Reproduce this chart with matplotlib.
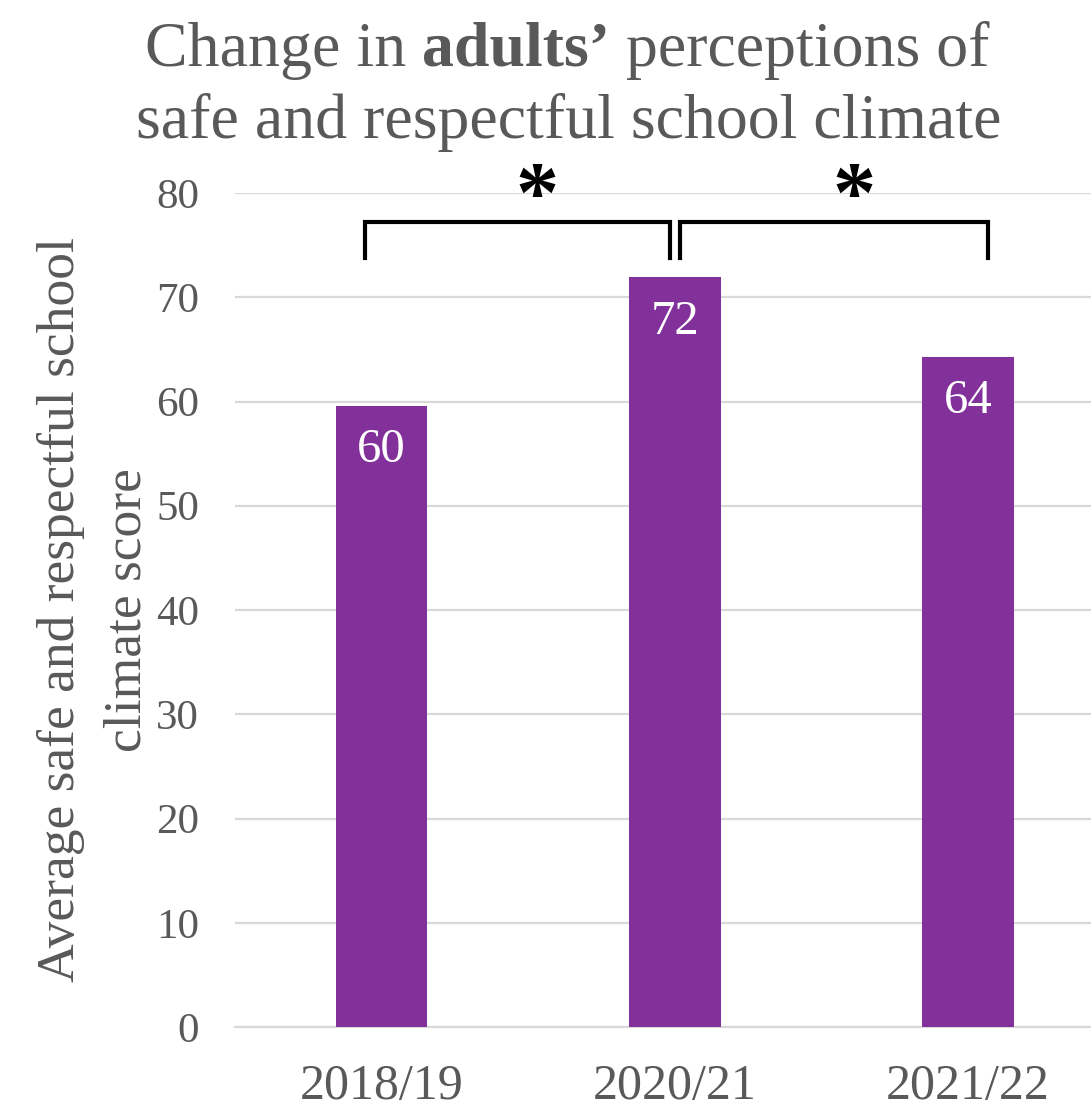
import matplotlib
matplotlib.use('Agg')
import matplotlib.pyplot as plt

years = ['2018/19', '2020/21', '2021/22']
scores = [59.6, 71.9, 64.3]
yticks = [0, 10, 20, 30, 40, 50, 60, 70, 80]

purple = '#82319A'
grey = '#595959'
font = 'Liberation Serif'
plt.rcParams['font.family'] = font

fig = plt.figure(figsize=(10.91, 11.13), dpi=100)
ax = fig.add_axes([235/1091, 86/1113, 856/1091, 834/1113])

x = list(range(len(years)))
bars = ax.bar(x, scores, width=0.313, color=purple, zorder=3)
ax.bar_label(bars, fmt='%.0f', label_type='edge', padding=-48,
             color='white', fontsize=35)

ax.set_xlim(-0.5, 2.42)
ax.set_ylim(0, 80)
ax.set_yticks(yticks)
ax.set_xticks(x)
ax.set_xticklabels(years, fontsize=36, color=grey)
ax.tick_params(axis='y', labelsize=31, colors=grey, length=0, pad=26)
ax.tick_params(axis='x', length=0, pad=26)
ax.grid(axis='y', color='#d9d9d9', linewidth=1.6, zorder=0)
for s in ['top', 'right', 'left']:
    ax.spines[s].set_visible(False)
ax.spines['bottom'].set_color('#d9d9d9')
ax.spines['bottom'].set_linewidth(1.6)

ax.set_ylabel('Average safe and respectful school\nclimate score', fontsize=38.5,
              color=grey, linespacing=1.5, labelpad=3)

# significance brackets
def bracket(x0, x1, top, bottom, star_x):
    ax.plot([x0, x0, x1, x1], [bottom, top, top, bottom], color='black',
            lw=3, clip_on=False, zorder=4, solid_joinstyle='miter')
    ax.text(star_x, 79.3, '*', ha='center', va='center', fontsize=62,
            fontweight='bold', color='black', clip_on=False)

bracket(-0.055, 0.985, 77.2, 73.8, 0.53)
bracket(1.019, 2.068, 77.2, 73.8, 1.61)

# title with bold word
parts = [('Change in ', 'normal'), ('adults\u2019', 'bold'), (' perceptions of', 'normal')]
texts = [fig.text(0, 0, p, fontsize=46, fontweight=w, color=grey) for p, w in parts]
fig.canvas.draw()
r = fig.canvas.get_renderer()
widths = [t.get_window_extent(r).width for t in texts]
total = sum(widths)
xs = 567 - total / 2
y1 = 1 - 66/1113
for t, w in zip(texts, widths):
    t.set_position((xs / 1091, y1))
    xs += w
fig.text(569/1091, 1 - 138/1113, 'safe and respectful school climate', fontsize=46,
         color=grey, ha='center', va='baseline')

fig.savefig('out.png', dpi=100)
